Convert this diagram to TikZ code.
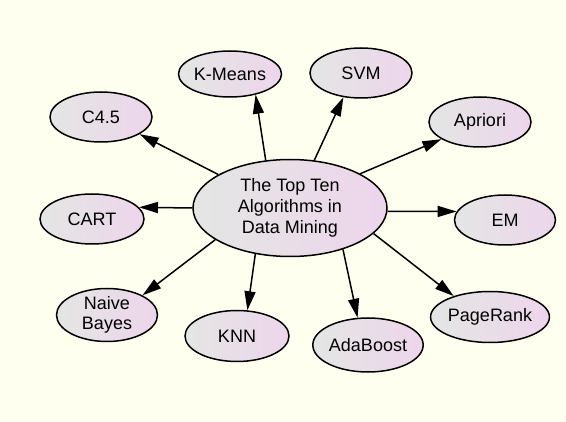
\documentclass[tikz,border=0pt]{standalone}
\usepackage{fontspec}
\setmainfont{Liberation Sans}
\usetikzlibrary{shapes.geometric,arrows.meta}
\definecolor{bgcol}{RGB}{255,255,240}
\definecolor{lcol}{RGB}{228,230,228}
\definecolor{rcol}{RGB}{237,213,236}
\begin{document}
\begin{tikzpicture}[x=1pt,y=-1pt,
  algo/.style={ellipse,draw=black,line width=1.5pt,left color=lcol,right color=rcol,
    inner sep=0pt,minimum width=102pt,minimum height=50pt,align=center,
    font=\fontsize{18pt}{20pt}\selectfont},
  edge/.style={line width=1.5pt,-{Triangle[length=19pt,width=11pt]}}]
\fill[bgcol] (0,0) rectangle (566,422);
\useasboundingbox (0,0) rectangle (566,422);
\node[algo,minimum width=194pt,minimum height=97pt,font=\fontsize{18pt}{21pt}\selectfont] (c) at (290,208) {The Top Ten\\Algorithms in\\Data Mining};
\node[algo,minimum width=103pt,minimum height=46pt] (km) at (230,74) {K-Means};
\node[algo] (svm) at (361,73) {SVM};
\node[algo] (c45) at (101,117) {C4.5};
\node[algo] (ap) at (480,122) {Apriori};
\node[algo,minimum width=104pt] (cart) at (92,219) {CART};
\node[algo,minimum width=101pt] (em) at (505,220) {EM};
\node[algo,minimum width=101pt,minimum height=53pt] (nb) at (107,315) {Naive\\Bayes};
\node[algo,minimum width=104pt,minimum height=51pt] (knn) at (237,336) {KNN};
\node[algo,minimum width=104pt,minimum height=54pt] (ada) at (368,345) {AdaBoost};
\node[algo,minimum width=102pt,minimum height=51pt] (pr) at (490,317) {PageRank};
\draw[edge] (c.117) -- (km.-39.4);
\draw[edge] (c.63.4) -- (svm.234.9);
\draw[edge] (c.155.2) -- (c45.-24.9);
\draw[edge] (c.26.6) -- (ap.204.3);
\draw[edge] (c.180) -- (cart.14.6);
\draw[edge] (c.-2.4) -- (em.170.7);
\draw[edge] (c.203.4) -- (nb.29.3);
\draw[edge] (c.233.5) -- (knn.68.2);
\draw[edge] (c.-38.3) -- (ada.111);
\draw[edge] (c.-17) -- (pr.150.3);
\end{tikzpicture}
\end{document}
